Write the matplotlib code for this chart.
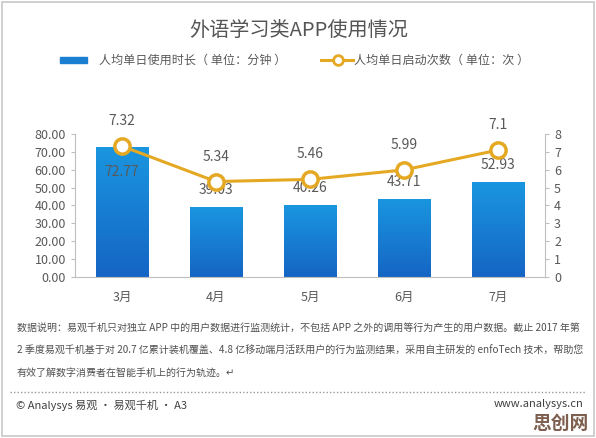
import matplotlib
matplotlib.use("Agg")
import matplotlib.pyplot as plt
import numpy as np
from matplotlib.patches import Rectangle
from matplotlib.lines import Line2D

plt.rcParams['font.family'] = ['Noto Sans CJK SC', 'DejaVu Sans']

months = ['3月', '4月', '5月', '6月', '7月']
minutes = [72.77, 39.03, 40.26, 43.71, 52.93]
launches = [7.32, 5.34, 5.46, 5.99, 7.1]
minute_labels = ['72.77', '39.03', '40.26', '43.71', '52.93']
launch_labels = ['7.32', '5.34', '5.46', '5.99', '7.1']

title = '外语学习类APP使用情况'
bar_name = '人均单日使用时长（ 单位：分钟 ）'
line_name = '人均单日启动次数（ 单位：次 ）'
note_lines = [
    '数据说明：易观千机只对独立 APP 中的用户数据进行监测统计，不包括 APP 之外的调用等行为产生的用户数据。截止 2017 年第',
    '2 季度易观千机基于对 20.7 亿累计装机覆盖、4.8 亿移动端月活跃用户的行为监测结果，采用自主研发的 enfoTech 技术，帮助您',
    '有效了解数字消费者在智能手机上的行为轨迹。↵',
]
footer_left = '© Analysys 易观 · 易观千机 · A3'
footer_right = 'www.analysys.cn'

gray = '#595959'
gold = '#E5A823'
H = 438.0
W = 596.0

fig = plt.figure(figsize=(5.96, 4.38), dpi=100)
fig.patch.set_facecolor('white')
fig.add_artist(Rectangle((0.004, 0.004), 0.992, 0.992, transform=fig.transFigure,
                         fill=False, edgecolor='#c8c8c8', linewidth=1.2))

ax = fig.add_axes([0.1258, 0.3676, 0.7886, 0.3265])
x = np.arange(len(months))
bars = ax.bar(x, minutes, width=0.56, color='#1a80d2', zorder=2)

# vertical gradient on each bar
grad = np.linspace(0, 1, 256).reshape(-1, 1)
cmap = matplotlib.colors.LinearSegmentedColormap.from_list('b', ['#1565c4', '#1a96e0'])
for b in bars:
    bx, bw, bh = b.get_x(), b.get_width(), b.get_height()
    im = ax.imshow(grad, extent=[bx, bx + bw, 0, bh], origin='lower', aspect='auto',
                   cmap=cmap, zorder=2.1)
    im.set_clip_path(b)

ax.set_xlim(-0.5, len(months) - 0.5)
ax.set_ylim(0, 80)
ax.set_yticks(np.arange(0, 81, 10))
ax.set_yticklabels(['%.2f' % v for v in np.arange(0, 81, 10)])
ax.set_xticks(x)
ax.set_xticklabels(months)

for i, (v, lab) in enumerate(zip(minutes, minute_labels)):
    off = -25 if i == 0 else 17
    ax.annotate(lab, (x[i], v), xytext=(0, off), textcoords='offset pixels',
                ha='center', va='center', fontsize=10, color=gray, zorder=5)

ax2 = ax.twinx()
ax2.plot(x, launches, color=gold, linewidth=2.2, marker='o', markersize=11,
         markerfacecolor='white', markeredgecolor=gold, markeredgewidth=2.5, zorder=4)
ax2.set_ylim(0, 8)
ax2.set_yticks(range(0, 9))
for i, (v, lab) in enumerate(zip(launches, launch_labels)):
    ax2.annotate(lab, (x[i], v), xytext=(0, 25), textcoords='offset pixels',
                 ha='center', va='center', fontsize=10, color=gray)

for a in (ax, ax2):
    for s in a.spines.values():
        s.set_visible(False)
    a.tick_params(colors='#bfbfbf', labelcolor=gray, labelsize=9, length=3)
ax.spines['left'].set_visible(True)
ax.spines['bottom'].set_visible(True)
ax2.spines['right'].set_visible(True)
for s in (ax.spines['left'], ax.spines['bottom'], ax2.spines['right']):
    s.set_color('#bfbfbf')
ax.tick_params(axis='x', length=0, pad=10)
ax.set_zorder(1)
ax2.set_zorder(2)
ax.patch.set_visible(False)

fig.text(299 / W, 1 - 31 / H, title, ha='center', va='center', fontsize=14.5, color='#555555')

fig.add_artist(Rectangle((60 / W, 1 - 63 / H), 27 / W, 6 / H,
                         transform=fig.transFigure, color='#1a7fd0'))
fig.text(99 / W, 1 - 60 / H, bar_name, ha='left', va='center', fontsize=8.7, color=gray)
fig.add_artist(Line2D([321 / W, 353 / W], [1 - 60 / H] * 2, transform=fig.transFigure,
                      color=gold, linewidth=2.2))
fig.add_artist(Line2D([338 / W], [1 - 60 / H], transform=fig.transFigure,
                      color=gold, marker='o', markersize=7, markerfacecolor='white',
                      markeredgewidth=2))
fig.text(354 / W, 1 - 60 / H, line_name, ha='left', va='center', fontsize=8.7, color=gray)

for k, line in enumerate(note_lines):
    fig.text(17 / W, 1 - (329 + k * 22) / H, line, ha='left', va='center',
             fontsize=7.2, color='#505050')

fig.add_artist(Line2D([10 / W, 586 / W], [1 - 392 / H] * 2, transform=fig.transFigure,
                      color='#999999', linewidth=1, linestyle=(0, (1, 1.5))))
fig.text(16 / W, 1 - 405 / H, footer_left, ha='left', va='center', fontsize=8, color='#404040')
fig.text(583 / W, 1 - 404 / H, footer_right, ha='right', va='center', fontsize=8, color='#404040')
fig.text(589 / W, 1 - 423 / H, '思创网', ha='right', va='center', fontsize=13.5,
         color='#7d5f4f', fontweight='bold')

fig.savefig('out.png', dpi=100)
